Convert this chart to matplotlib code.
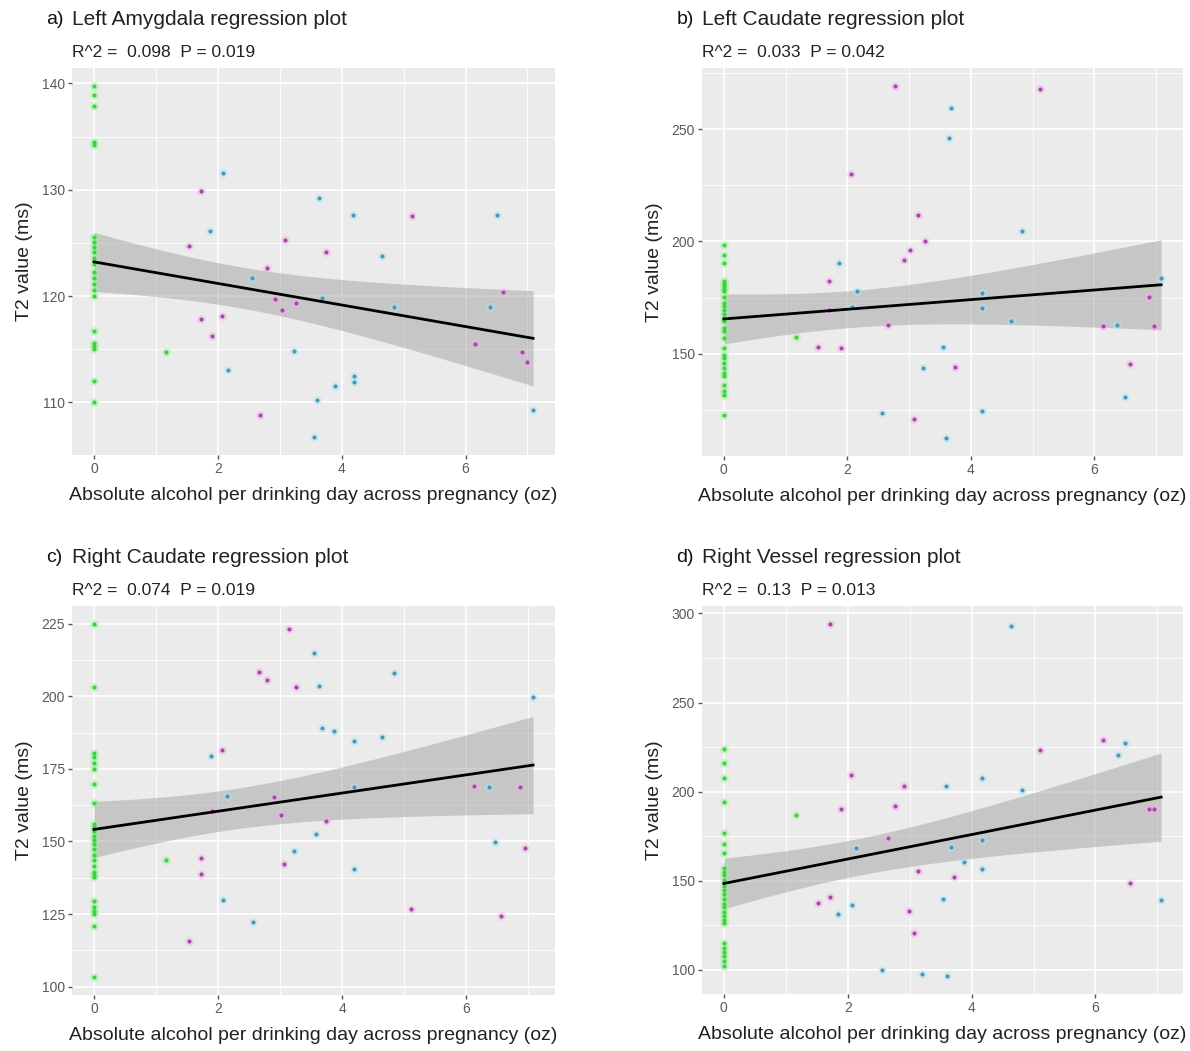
import numpy as np
import matplotlib
matplotlib.use("Agg")
import matplotlib.pyplot as plt
from matplotlib.ticker import FixedLocator

plt.rcParams["font.family"] = ["Liberation Sans", "DejaVu Sans"]

# ---- data -------------------------------------------------------------
XLABEL = "Absolute alcohol per drinking day across pregnancy (oz)"
YLABEL = "T2 value (ms)"

TITLES = ["Left Amygdala regression plot", "Left Caudate regression plot",
          "Right Caudate regression plot", "Right Vessel regression plot"]
TAGS = ["a)", "b)", "c)", "d)"]
STATS = ["R^2 =  0.098  P = 0.019", "R^2 =  0.033  P = 0.042",
         "R^2 =  0.074  P = 0.019", "R^2 =  0.13  P = 0.013"]
YTICKS = [[110, 120, 130, 140], [150, 200, 250],
          [100, 125, 150, 175, 200, 225], [100, 150, 200, 250, 300]]
XTICKS = [0, 2, 4, 6]

# a) Left Amygdala
A_GREEN_X = [0] * 22 + [1.16]
A_GREEN_Y = [139.8, 138.9, 137.9, 134.5, 134.2, 125.6, 125.1, 124.6, 124.1, 123.6,
             123.0, 122.3, 121.7, 121.1, 120.6, 120.0, 116.7, 115.6, 115.3, 115.0,
             112.0, 110.0, 114.75]
A_PINK_X = [1.73, 5.14, 1.53, 3.09, 3.75, 2.79, 2.92, 3.03, 3.27, 6.60, 1.73, 2.07,
            1.91, 6.16, 6.91, 6.99, 2.68]
A_PINK_Y = [129.9, 127.5, 124.7, 125.3, 124.1, 122.6, 119.7, 118.7, 119.3, 120.4,
            117.8, 118.1, 116.2, 115.5, 114.7, 113.8, 108.8]
A_BLUE_X = [2.08, 3.64, 4.19, 6.51, 1.88, 4.65, 2.56, 3.69, 4.84, 6.39, 3.23, 2.16,
            4.20, 4.20, 3.89, 3.60, 3.55, 7.09]
A_BLUE_Y = [131.6, 129.2, 127.6, 127.6, 126.1, 123.8, 121.7, 119.8, 119.0, 119.0,
            114.8, 113.0, 112.5, 111.9, 111.5, 110.2, 106.7, 109.3]

# b) Left Caudate
B_GREEN_X = [0] * 29 + [1.16]
B_GREEN_Y = [198.5, 194.0, 190.4, 182.3, 181.1, 180.1, 179.0, 177.9, 175.5, 172.7,
             171.2, 169.7, 167.5, 166.0, 164.5, 161.6, 160.0, 157.1, 152.7, 149.7,
             148.2, 146.0, 143.5, 141.6, 140.1, 136.0, 133.4, 131.9, 123.0, 157.4]
B_PINK_X = [2.77, 5.12, 2.06, 3.14, 3.25, 3.02, 2.92, 1.71, 1.71, 2.65, 6.89, 6.14,
            6.97, 1.53, 1.90, 3.74, 6.58, 3.08]
B_PINK_Y = [269.3, 267.9, 229.8, 211.6, 200.4, 196.4, 191.9, 182.3, 169.7, 163.0,
            175.2, 162.6, 162.6, 153.1, 152.7, 144.2, 145.6, 121.0]
B_BLUE_X = [3.68, 3.64, 4.83, 1.86, 2.15, 2.08, 4.18, 4.18, 4.65, 7.08, 6.37, 3.55,
            3.22, 6.49, 2.56, 4.18, 3.59]
B_BLUE_Y = [259.5, 246.1, 204.5, 190.4, 178.1, 170.7, 177.1, 170.4, 164.5, 183.8,
            162.7, 153.1, 143.8, 130.7, 123.8, 124.5, 112.4]

# c) Right Caudate
C_GREEN_X = [0] * 27 + [1.16]
C_GREEN_Y = [225.0, 203.3, 180.5, 179.0, 177.0, 175.0, 169.7, 163.4, 156.0, 155.0,
             153.5, 152.0, 150.5, 149.0, 147.4, 145.5, 143.5, 141.5, 139.5, 138.5,
             137.6, 129.6, 127.3, 126.0, 125.0, 121.0, 103.2, 143.6]
C_PINK_X = [3.14, 2.66, 2.79, 3.26, 2.07, 6.13, 6.87, 2.91, 1.91, 3.02, 3.74, 6.95,
            1.73, 1.73, 3.06, 5.12, 6.56, 1.54]
C_PINK_Y = [223.1, 208.2, 205.6, 203.3, 181.6, 169.2, 168.9, 165.4, 160.6, 159.1,
            157.1, 147.9, 144.2, 138.8, 142.4, 126.7, 124.4, 115.8]
C_BLUE_X = [3.54, 3.63, 4.83, 7.08, 3.68, 3.87, 4.19, 4.65, 1.88, 4.19, 6.37, 2.15,
            3.58, 6.47, 3.22, 4.19, 2.08, 2.56]
C_BLUE_Y = [215.0, 203.5, 208.1, 199.9, 189.0, 188.2, 184.5, 186.0, 179.3, 168.9,
            168.9, 165.7, 152.5, 149.7, 146.6, 140.5, 129.8, 122.1]

# d) Right Vessel
D_GREEN_X = [0] * 27 + [1.16]
D_GREEN_Y = [224.2, 216.0, 207.5, 194.1, 176.9, 170.4, 165.7, 157.4, 155.0, 153.0,
             150.5, 147.2, 145.0, 142.6, 140.0, 137.0, 135.2, 132.5, 130.0, 128.0,
             126.0, 114.8, 112.0, 110.0, 107.5, 105.0, 102.0, 186.7]
D_PINK_X = [1.71, 6.12, 5.11, 2.05, 2.91, 2.76, 1.89, 6.87, 6.95, 2.65, 3.13, 3.72,
            6.56, 1.71, 1.52, 2.99, 3.07]
D_PINK_Y = [294.3, 228.9, 223.2, 209.6, 203.1, 191.7, 190.2, 190.2, 190.2, 174.1,
            155.6, 152.2, 148.5, 141.1, 137.6, 132.8, 120.9]
D_BLUE_X = [4.63, 6.47, 6.36, 4.17, 3.58, 4.81, 4.17, 2.14, 3.67, 3.87, 4.17, 3.54,
            7.06, 2.07, 1.85, 2.55, 3.20, 3.61]
D_BLUE_Y = [293.0, 227.4, 220.8, 207.9, 203.3, 200.9, 172.8, 168.1, 169.1, 160.7,
            156.5, 139.8, 139.4, 136.5, 131.1, 99.6, 97.6, 96.3]

PANELS = [
    (A_GREEN_X, A_GREEN_Y, A_PINK_X, A_PINK_Y, A_BLUE_X, A_BLUE_Y),
    (B_GREEN_X, B_GREEN_Y, B_PINK_X, B_PINK_Y, B_BLUE_X, B_BLUE_Y),
    (C_GREEN_X, C_GREEN_Y, C_PINK_X, C_PINK_Y, C_BLUE_X, C_BLUE_Y),
    (D_GREEN_X, D_GREEN_Y, D_PINK_X, D_PINK_Y, D_BLUE_X, D_BLUE_Y),
]

# ---- style ------------------------------------------------------------
BG = "#EBEBEB"
GROUP_COLORS = [("#3fd23f", "#9cf09c"), ("#a54aa5", "#f0b0f0"), ("#4a98b4", "#b0e4f4")]
AXES_RECTS = [
    [72 / 1190, 1 - 455 / 1051, 483 / 1190, 387 / 1051],
    [702 / 1190, 1 - 456 / 1051, 481 / 1190, 388 / 1051],
    [72 / 1190, 1 - 995 / 1051, 483 / 1190, 389 / 1051],
    [702 / 1190, 1 - 994 / 1051, 481 / 1190, 388 / 1051],
]


def lm_band(x, y, grid):
    """Ordinary least squares fit with a 95% confidence band."""
    x = np.asarray(x, float)
    y = np.asarray(y, float)
    n = len(x)
    slope, icpt = np.polyfit(x, y, 1)
    resid = y - (icpt + slope * x)
    s = np.sqrt(np.sum(resid ** 2) / (n - 2))
    sxx = np.sum((x - x.mean()) ** 2)
    se = s * np.sqrt(1.0 / n + (grid - x.mean()) ** 2 / sxx)
    t = 2.0  # ~t(0.975, n-2) for n around 60
    fit = icpt + slope * grid
    return fit, fit - t * se, fit + t * se


fig = plt.figure(figsize=(11.9, 10.51), dpi=100)

for i, (gx, gy, px, py, bx, by) in enumerate(PANELS):
    ax = fig.add_axes(AXES_RECTS[i])
    ax.set_facecolor(BG)
    for sp in ax.spines.values():
        sp.set_visible(False)

    all_x = np.concatenate([gx, px, bx]).astype(float)
    all_y = np.concatenate([gy, py, by]).astype(float)

    grid = np.linspace(all_x.min(), all_x.max(), 80)
    fit, lo, hi = lm_band(all_x, all_y, grid)
    ax.fill_between(grid, lo, hi, color="#999999", alpha=0.45, lw=0, zorder=2)

    for (xs, ys), (core, halo) in zip([(gx, gy), (px, py), (bx, by)], GROUP_COLORS):
        ax.scatter(xs, ys, s=40, color=halo, alpha=0.45, lw=0, zorder=3)
        ax.scatter(xs, ys, s=9, color=core, lw=0, zorder=4)

    ax.plot(grid, fit, color="black", lw=2.0, zorder=5)

    # limits with 5% expansion on both axes
    ymin = min(all_y.min(), lo.min())
    ymax = max(all_y.max(), hi.max())
    yr = ymax - ymin
    ax.set_ylim(ymin - 0.05 * yr, ymax + 0.05 * yr)
    xr = all_x.max() - all_x.min()
    ax.set_xlim(all_x.min() - 0.05 * xr, all_x.max() + 0.05 * xr)

    yt = YTICKS[i]
    ax.yaxis.set_major_locator(FixedLocator(yt))
    step = yt[1] - yt[0]
    ax.yaxis.set_minor_locator(FixedLocator(
        [yt[0] - step / 2] + [v + step / 2 for v in yt]))
    ax.xaxis.set_major_locator(FixedLocator(XTICKS))
    ax.xaxis.set_minor_locator(FixedLocator([1, 3, 5, 7]))

    ax.grid(which="major", color="white", lw=1.2, zorder=0)
    ax.grid(which="minor", color="white", lw=0.6, zorder=0)
    ax.set_axisbelow(True)
    ax.tick_params(which="major", length=3, width=1, color="#555555",
                   labelsize=10, labelcolor="#5a5a5a", pad=2)
    ax.tick_params(which="minor", length=0)

    ax.set_xlabel(XLABEL, fontsize=14, color="#222222", labelpad=8)
    ax.set_ylabel(YLABEL, fontsize=14, color="#222222", labelpad=6)

    # title block above each panel
    h_px = AXES_RECTS[i][3] * 1051
    ax.text(0.0, 1.0 + 39 / h_px, TITLES[i], transform=ax.transAxes,
            fontsize=15, color="#222222", ha="left", va="bottom")
    ax.text(-0.053, 1.0 + 40 / h_px, TAGS[i], transform=ax.transAxes,
            fontsize=14, color="#111111", ha="left", va="bottom")
    ax.text(0.0, 1.0 + 8 / h_px, STATS[i], transform=ax.transAxes,
            fontsize=12.5, color="#222222", ha="left", va="bottom")

fig.savefig("out.png", dpi=100, facecolor="white")
